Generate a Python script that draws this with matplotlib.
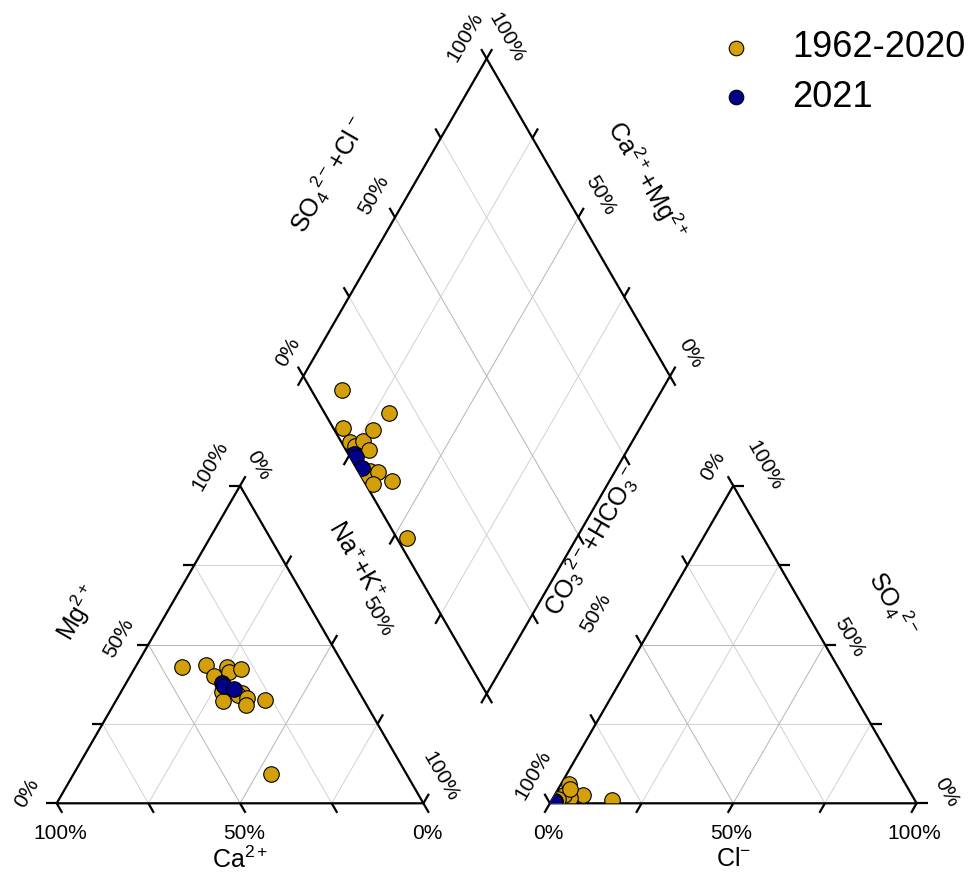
import numpy as np
import matplotlib.pyplot as plt
from matplotlib.patches import Polygon

plt.rcParams['font.family'] = ['Liberation Sans', 'DejaVu Sans']
plt.rcParams['mathtext.fontset'] = 'custom'
plt.rcParams['mathtext.rm'] = 'Liberation Sans'
plt.rcParams['mathtext.it'] = 'Liberation Sans:italic'
plt.rcParams['mathtext.bf'] = 'Liberation Sans:bold'

# -------------------- data (meq %) --------------------
# 1962-2020 samples
ca_old   = [44.4, 37.7, 37.0, 32.1, 32.2, 37.5, 28.6, 38.5, 32.0, 33.5, 31.5, 32.8, 26.9, 37.0]
mg_old   = [42.9, 43.4, 40.0, 42.9, 41.4, 35.0, 42.3, 32.1, 34.8, 34.0, 33.2, 31.1, 32.4, 9.2]
nak_old  = [12.7, 18.9, 23.0, 25.0, 26.4, 27.5, 29.1, 29.4, 33.2, 32.5, 35.3, 36.1, 40.7, 53.8]
hco3_old = [91.8, 97.4, 97.6, 96.9, 93.9, 89.6, 82.5, 93.7, 96.6, 98.5, 94.8, 98.0, 92.2, 97.1]
so4_old  = [6.0, 1.2, 1.0, 1.6, 3.1, 2.6, 1.0, 1.6, 1.6, 0.7, 2.6, 1.0, 4.6, 1.4]
cl_old   = [2.2, 1.4, 1.4, 1.5, 3.0, 7.8, 16.5, 4.7, 1.8, 0.8, 2.6, 1.0, 3.2, 1.5]

# 2021 samples
ca_new   = [36.0, 35.8, 33.6]
mg_new   = [38.0, 37.0, 36.1]
nak_new  = [26.0, 27.2, 30.3]
hco3_new = [98.4, 98.4, 98.5]
so4_new  = [0.6, 0.5, 0.5]
cl_new   = [1.0, 1.1, 1.0]

series_labels = ['1962-2020', '2021']
series_colors = ['#D4A00A', '#00008B']
tick_vals = [0.0, 0.25, 0.5, 0.75, 1.0]

# -------------------- geometry --------------------
S = 366.7            # pixels per unit side
H = np.sqrt(3) / 2
gap = 0.345
X0 = 1 + gap         # anion triangle offset
Bd = np.array([1 + gap / 2, gap * H])   # diamond bottom vertex
e1 = np.array([-0.5, H])
e2 = np.array([0.5, H])
Ld = Bd + e1
Td = Bd + e1 + e2
Rd = Bd + e2


def cation_xy(ca, mg, nak):
    ca, mg, nak = map(np.asarray, (ca, mg, nak))
    t = ca + mg + nak
    return nak / t + mg / t / 2, mg / t * H


def anion_xy(hco3, so4, cl):
    hco3, so4, cl = map(np.asarray, (hco3, so4, cl))
    t = hco3 + so4 + cl
    return X0 + cl / t + so4 / t / 2, so4 / t * H


def diamond_xy(ca, mg, nak, hco3, so4, cl):
    ca, mg, nak, hco3, so4, cl = map(np.asarray, (ca, mg, nak, hco3, so4, cl))
    a = (ca + mg) / (ca + mg + nak)
    b = (so4 + cl) / (hco3 + so4 + cl)
    return Bd[0] - a / 2 + b / 2, Bd[1] + H * (a + b)


fig = plt.figure(figsize=(9.76, 8.74), dpi=100)
ax = fig.add_axes([0, 0, 1, 1])
ax.set_xlim(-56.7 / S, (976 - 56.7) / S)
ax.set_ylim((803.3 - 874) / S, 803.3 / S)
ax.set_aspect('equal')
ax.axis('off')

grid_kw = dict(lw=0.7, zorder=1)
frame_kw = dict(color='black', lw=1.6, zorder=3, solid_capstyle='butt')
tl = 0.03


def gline(p, q, t):
    c = '#b4b4b4' if t == 0.5 else '#d2d2d2'
    ax.plot([p[0], q[0]], [p[1], q[1]], color=c, **grid_kw)


# -------------------- grids --------------------
for t in [0.25, 0.5, 0.75]:
    # cation triangle
    gline((t / 2, t * H), (1 - t / 2, t * H), t)
    gline((1 - t, 0), ((1 - t) / 2, (1 - t) * H), t)
    gline((t, 0), (t + (1 - t) / 2, (1 - t) * H), t)
    # anion triangle
    gline((X0 + t / 2, t * H), (X0 + 1 - t / 2, t * H), t)
    gline((X0 + t, 0), (X0 + t + (1 - t) / 2, (1 - t) * H), t)
    gline((X0 + 1 - t, 0), (X0 + (1 - t) / 2, (1 - t) * H), t)
    # diamond
    gline(Bd + t * e1, Bd + t * e1 + e2, t)
    gline(Bd + t * e2, Bd + t * e2 + e1, t)

# -------------------- frames --------------------
cat_poly = np.array([[0, 0], [1, 0], [0.5, H]])
an_poly = np.array([[X0, 0], [X0 + 1, 0], [X0 + 0.5, H]])
dia_poly = np.array([Bd, Rd, Td, Ld])
for poly in (cat_poly, an_poly, dia_poly):
    closed = np.vstack([poly, poly[:1]])
    ax.plot(closed[:, 0], closed[:, 1], **frame_kw)


def ticks(points, d):
    d = np.asarray(d) / np.hypot(*d)
    for p in points:
        p = np.asarray(p)
        q = p + tl * d
        ax.plot([p[0], q[0]], [p[1], q[1]], **frame_kw)


# cation
ticks([(1 - c, 0) for c in tick_vals], (0.5, -H))
ticks([(m / 2, m * H) for m in tick_vals], (-1, 0))
ticks([(w + (1 - w) / 2, (1 - w) * H) for w in tick_vals], (0.5, H))
# anion
ticks([(X0 + c, 0) for c in tick_vals], (-0.5, -H))
ticks([(X0 + 1 - s / 2, s * H) for s in tick_vals], (1, 0))
ticks([(X0 + (1 - h) / 2, (1 - h) * H) for h in tick_vals], (-0.5, H))
# diamond
ticks([Ld + b * e2 for b in tick_vals], e1)
ticks([Rd + a * e1 for a in tick_vals], e2)
ticks([Bd + a * e1 for a in tick_vals], -e2)
ticks([Bd + b * e2 for b in tick_vals], -e1)

# -------------------- points --------------------
sets = [
    (ca_old, mg_old, nak_old, hco3_old, so4_old, cl_old),
    (ca_new, mg_new, nak_new, hco3_new, so4_new, cl_new),
]
clips = [Polygon(p, closed=True, transform=ax.transData) for p in (cat_poly, an_poly, dia_poly)]
handles = []
for (ca, mg, nak, hco3, so4, cl), col, lab in zip(sets, series_colors, series_labels):
    coords = [cation_xy(ca, mg, nak), anion_xy(hco3, so4, cl),
              diamond_xy(ca, mg, nak, hco3, so4, cl)]
    for (x, y), clip in zip(coords, clips):
        sc = ax.scatter(x, y, s=125, c=col, edgecolors='black', linewidths=0.8, zorder=4)
        sc.set_clip_path(clip)
    handles.append(ax.scatter([], [], s=110, c=col, edgecolors='black', linewidths=0.8, label=lab))

ax.legend(handles=handles, loc='upper left', bbox_to_anchor=(721.6 / 976, 1 - 30 / 874),
          bbox_transform=fig.transFigure, frameon=False, fontsize=26, borderpad=0,
          handlelength=0.8, handletextpad=1.15, labelspacing=0.41, borderaxespad=0)

# -------------------- labels --------------------
TF = 15
LF = 18


def lab(pt, dx, dy, s, rot=0, fs=TF):
    ax.text(pt[0] + dx / S, pt[1] - dy / S, s, rotation=rot, ha='center', va='center',
            rotation_mode='anchor', fontsize=fs)


pct = ['0%', '50%', '100%']
# cation bottom (Ca: 100% at left vertex)
for v, s in zip([0, 0.5, 1], pct):
    lab((1 - v, 0), 4, 30, s)
# cation left (Mg)
for v, s, off in zip([0, 0.5, 1], pct, [(-30, -10), (-29, -6), (-30, -20)]):
    lab((v / 2, v * H), off[0], off[1], s, 60)
# cation right (Na+K)
for v, s, off in zip([0, 0.5, 1], pct, [(18, -20), (46, -28), (17, -27)]):
    lab((v + (1 - v) / 2, (1 - v) * H), off[0], off[1], s, -60)
# anion bottom (Cl)
for v, s in zip([0, 0.5, 1], pct):
    lab((X0 + v, 0), -2, 30, s)
# anion right (SO4)
for v, s, off in zip([0, 0.5, 1], pct, [(30, -11), (24, -7), (31, -20)]):
    lab((X0 + 1 - v / 2, v * H), off[0], off[1], s, -60)
# anion left (HCO3)
for v, s, off in zip([0, 0.5, 1], pct, [(-20, -20), (-46, -31), (-17, -28)]):
    lab((X0 + (1 - v) / 2, (1 - v) * H), off[0], off[1], s, 60)
# diamond upper-left (SO4+Cl)
for v, s, off in zip([0, 0.5, 1], pct, [(-15, -24), (-21, -22), (-22, -22)]):
    lab(Ld + v * e2, off[0], off[1], s, 60)
# diamond upper-right (Ca+Mg)
for v, s, off in zip([0, 0.5, 1], pct, [(20, -23), (22, -22), (20, -21)]):
    lab(Rd + v * e1, off[0], off[1], s, -60)

# axis titles
lab((0.5, 0), 0, 56, r'Ca$^{2+}$', 0, LF)
lab((X0 + 0.5, 0), 0, 56, r'Cl$^{-}$', 0, LF)
lab((0.25, 0.5 * H), -70, -32, r'Mg$^{2+}$', 60, LF)
lab((0.75, 0.5 * H), 24, -84, r'Na$^{+}$+K$^{+}$', -60, LF)
lab((X0 + 0.25, 0.5 * H), -49, -104, r'CO$_3$$^{2-}$+HCO$_3$$^{-}$', 60, LF)
lab((X0 + 0.75, 0.5 * H), 68, -40, r'SO$_4$$^{2-}$', -60, LF)
lab(Ld + 0.5 * e2, -66, -43, r'SO$_4$$^{2-}$+Cl$^{\,-}$', 60, LF)
lab(Rd + 0.5 * e1, 68, -37, r'Ca$^{2+}$+Mg$^{2+}$', -60, LF)

fig.savefig('out.png', dpi=100)
